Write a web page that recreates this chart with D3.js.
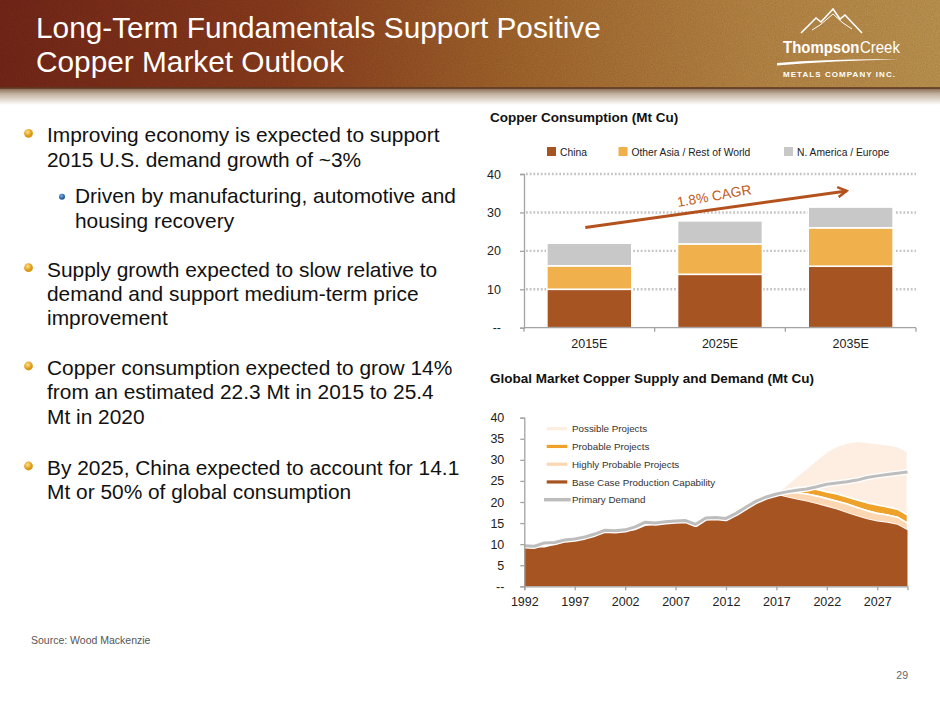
<!DOCTYPE html>
<html lang="en">
<head>
<meta charset="utf-8">
<script src="https://cdn.jsdelivr.net/npm/d3@7/dist/d3.min.js"></script>
<style>
  body { margin: 0; background: #fff; }
  svg { display: block; font-family: "Liberation Sans", Arial, Helvetica, sans-serif; }
</style>
</head>
<body>
<div id="slide"></div>
<script>
// ---- data ----
const barCategories = ['2015E', '2025E', '2035E']
const chinaMt = [10.0, 13.9, 16.0]
const otherAsiaMt = [6.1, 7.9, 10.0]
const naEuropeMt = [5.9, 6.0, 5.4]
const barTickValues = [0, 10, 20, 30, 40]

const years = [1992, 1993, 1994, 1995, 1996, 1997, 1998, 1999, 2000, 2001,
               2002, 2003, 2004, 2005, 2006, 2007, 2008, 2009, 2010, 2011,
               2012, 2013, 2014, 2015, 2016, 2017, 2018, 2019, 2020, 2021,
               2022, 2023, 2024, 2025, 2026, 2027, 2028, 2029, 2030]
const baseCase = [9.3, 9.2, 9.2, 9.8, 10.6, 10.9, 11.4, 12.2, 13.0, 12.9,
                  13.0, 13.3, 14.3, 14.6, 14.8, 15.1, 15.3, 14.6, 15.9, 16.0,
                  16.0, 17.3, 18.8, 20.2, 21.0, 21.7, 21.1, 20.6, 20.1, 19.5,
                  18.9, 18.2, 17.4, 16.6, 15.9, 15.4, 15.1, 14.6, 13.3]
const primaryDemand = [9.6, 9.5, 10.3, 10.4, 11.0, 11.2, 11.7, 12.4, 13.3, 13.2,
                       13.4, 14.1, 15.2, 15.0, 15.3, 15.5, 15.6, 14.7, 16.2, 16.3,
                       16.1, 17.3, 18.8, 20.2, 21.2, 21.9, 22.4, 22.8, 23.1, 23.6,
                       24.2, 24.5, 24.8, 25.2, 25.8, 26.2, 26.5, 26.8, 27.1]
// project layers, thickness above the base case (2017 onwards)
const projYears = [2017, 2018, 2019, 2020, 2021, 2022, 2023, 2024, 2025, 2026, 2027, 2028, 2029, 2030]
const highlyProbable = [0.1, 1.1, 1.6, 1.8, 1.9, 1.9, 2.0, 2.1, 2.1, 2.0, 1.9, 1.8, 1.8, 1.7]
const probable = [0.2, 0.7, 1.2, 1.5, 1.6, 1.6, 1.7, 1.7, 1.8, 1.9, 2.0, 1.9, 1.9, 1.9]
const possible = [0.1, 1.1, 2.6, 4.6, 7.0, 9.5, 11.3, 12.8, 13.9, 14.4, 14.6, 14.8, 14.9, 15.0]
const yearTickValues = [1992, 1997, 2002, 2007, 2012, 2017, 2022, 2027]
const areaTickValues = [0, 5, 10, 15, 20, 25, 30, 35, 40]

const bullets = [
  { level: 0, lines: ['Improving economy is expected to support', '2015 U.S. demand growth of ~3%'], y: 142.3 },
  { level: 1, lines: ['Driven by manufacturing, automotive and', 'housing recovery'], y: 203.3 },
  { level: 0, lines: ['Supply growth expected to slow relative to', 'demand and support medium-term price', 'improvement'], y: 276.7 },
  { level: 0, lines: ['Copper consumption expected to grow 14%', 'from an estimated 22.3 Mt in 2015 to 25.4', 'Mt in 2020'], y: 375 },
  { level: 0, lines: ['By 2025, China expected to account for 14.1', 'Mt or 50% of global consumption'], y: 475 }
]

const W = 940, H = 705
const svg = d3.select('#slide').append('svg').attr('width', W).attr('height', H)
const defs = svg.append('defs')

// ---- header band ----
let hg = defs.append('linearGradient').attr('id', 'hdr')
hg.append('stop').attr('offset', '0').attr('stop-color', '#782819')
hg.append('stop').attr('offset', '0.3').attr('stop-color', '#8e3e1e')
hg.append('stop').attr('offset', '0.55').attr('stop-color', '#a8692e')
hg.append('stop').attr('offset', '0.8').attr('stop-color', '#bd8a47')
hg.append('stop').attr('offset', '1').attr('stop-color', '#c49953')

let sg = defs.append('linearGradient').attr('id', 'shadow').attr('x1', 0).attr('x2', 0).attr('y1', 0).attr('y2', 1)
sg.append('stop').attr('offset', '0').attr('stop-color', '#85684f')
sg.append('stop').attr('offset', '0.35').attr('stop-color', '#c2b09e')
sg.append('stop').attr('offset', '1').attr('stop-color', '#ffffff')

let nf = defs.append('filter').attr('id', 'noise').attr('x', 0).attr('y', 0).attr('width', 1).attr('height', 1)
nf.append('feTurbulence').attr('type', 'fractalNoise').attr('baseFrequency', 0.9).attr('numOctaves', 2).attr('seed', 4)
nf.append('feColorMatrix').attr('type', 'matrix')
  .attr('values', '0 0 0 0 0  0 0 0 0 0  0 0 0 0 0  0 0 0 0.5 0')

let bg = defs.append('radialGradient').attr('id', 'gold').attr('cx', '40%').attr('cy', '35%')
bg.append('stop').attr('offset', '0').attr('stop-color', '#ffe08a')
bg.append('stop').attr('offset', '1').attr('stop-color', '#d9960f')
let bb = defs.append('radialGradient').attr('id', 'blue').attr('cx', '40%').attr('cy', '35%')
bb.append('stop').attr('offset', '0').attr('stop-color', '#7fb2e8')
bb.append('stop').attr('offset', '1').attr('stop-color', '#1f5aa0')

svg.append('rect').attr('width', W).attr('height', 88).attr('fill', 'url(#hdr)')
svg.append('rect').attr('width', W).attr('height', 88).attr('filter', 'url(#noise)').attr('opacity', 0.35)
svg.append('rect').attr('y', 88).attr('width', W).attr('height', 17).attr('fill', 'url(#shadow)')
svg.append('rect').attr('y', 87).attr('width', W).attr('height', 2).attr('fill', '#5e3a20').attr('opacity', 0.8)

svg.append('text').attr('x', 36).attr('y', 37.5).attr('fill', '#fff').attr('font-size', 29.8)
  .text('Long-Term Fundamentals Support Positive')
svg.append('text').attr('x', 36).attr('y', 72).attr('fill', '#fff').attr('font-size', 29.8)
  .text('Copper Market Outlook')

// logo
let logo = svg.append('g')
logo.append('polyline')
  .attr('points', '801,33 816,18 821,22 833,9 840,19 845,15 862,33')
  .attr('fill', 'none').attr('stroke', '#fff').attr('stroke-width', 1.6).attr('stroke-linejoin', 'miter')
logo.append('polyline')
  .attr('points', '812,30 820,25 833,14 843,23 852,29')
  .attr('fill', 'none').attr('stroke', '#fff').attr('stroke-width', 1)
// condensed word mark: squeeze the group instead of the glyphs
let brand = logo.append('g').attr('transform', 'translate(783,53) scale(0.88,1)')
brand.append('text').attr('x', 0).attr('y', 0).attr('fill', '#fff').attr('font-size', 17)
  .attr('font-weight', 'bold').text('Thompson')
brand.append('text').attr('x', 87.5).attr('y', 0).attr('fill', '#fff').attr('font-size', 17)
  .text('Creek')
logo.append('path').attr('d', 'M777,63 Q835,58.5 899,59.5 Q835,60.5 777,65.5 Z').attr('fill', '#fff')
logo.append('text').attr('x', 783).attr('y', 76.5).attr('fill', '#fff').attr('font-size', 8).attr('font-weight', 'bold')
  .attr('textLength', 112).attr('lengthAdjust', 'spacing').text('METALS COMPANY INC.')

// ---- left bullet text ----
bullets.forEach(function(b) {
  const x = b.level === 0 ? 47 : 75
  const lh = 24.3
  svg.append('circle')
    .attr('cx', b.level === 0 ? 28.5 : 62)
    .attr('cy', b.level === 0 ? b.y - 9 : b.y - 6.5)
    .attr('r', b.level === 0 ? 4.4 : 3)
    .attr('fill', b.level === 0 ? 'url(#gold)' : 'url(#blue)')
  let t = svg.append('text').attr('font-size', 20.9).attr('fill', '#111')
  t.selectAll('tspan')
    .data(b.lines)
    .enter()
    .append('tspan')
    .attr('x', x)
    .attr('y', function(d, i) { return b.y + i * lh })
    .text(function(d) { return d })
})

svg.append('text').attr('x', 31).attr('y', 644).attr('font-size', 10.5).attr('fill', '#555')
  .text('Source: Wood Mackenzie')
svg.append('text').attr('x', 908).attr('y', 679).attr('font-size', 10.5).attr('fill', '#666')
  .attr('text-anchor', 'end').text('29')

// ---- Copper Consumption bar chart ----
svg.append('text').attr('x', 490).attr('y', 122).attr('font-size', 13.5).attr('font-weight', 'bold')
  .attr('fill', '#111').text('Copper Consumption (Mt Cu)')

const barColors = ['#a65422', '#f0b04c', '#c8c8c8']
const barKeys = ['china', 'other', 'naeu']
const barLegend = ['China', 'Other Asia / Rest of World', 'N. America / Europe']
const barLegX = [547, 618.5, 784]
barLegend.forEach(function(name, i) {
  svg.append('rect').attr('x', barLegX[i]).attr('y', 147).attr('width', 9).attr('height', 9).attr('fill', barColors[i])
  svg.append('text').attr('x', barLegX[i] + 13).attr('y', 155.5).attr('font-size', 10.3).attr('fill', '#222').text(name)
})

let barY = d3.scaleLinear().domain([0, 40]).range([327.7, 174])
let barX = d3.scaleBand().domain(barCategories).range([524, 916]).paddingInner(0.35).paddingOuter(0.175)

// dotted gridlines
svg.append('g').selectAll('line')
  .data(barTickValues.slice(1))
  .enter()
  .append('line')
  .attr('x1', 526).attr('x2', 916)
  .attr('y1', function(d) { return barY(d) }).attr('y2', function(d) { return barY(d) })
  .attr('stroke', '#c4c4c4').attr('stroke-width', 2.4).attr('stroke-dasharray', '1.8,1.9')

let barRows = barCategories.map(function(c, i) {
  return { cat: c, china: chinaMt[i], other: otherAsiaMt[i], naeu: naEuropeMt[i] }
})
let barStack = d3.stack().keys(barKeys)(barRows)

svg.append('g').selectAll('g')
  .data(barStack)
  .enter()
  .append('g')
  .attr('fill', function(d, i) { return barColors[i] })
  .selectAll('rect')
  .data(function(d) { return d })
  .enter()
  .append('rect')
  .attr('x', function(d) { return barX(d.data.cat) })
  .attr('width', barX.bandwidth())
  .attr('y', function(d) { return barY(d[1]) })
  .attr('height', function(d) { return barY(d[0]) - barY(d[1]) })
  .attr('stroke', '#fff').attr('stroke-width', 1.6)

let barYAxis = d3.axisLeft(barY).tickValues(barTickValues)
  .tickFormat(function(d) { return d === 0 ? '--' : d })
  .tickSize(4).tickPadding(19)
let gy1 = svg.append('g').attr('transform', 'translate(524,0)').call(barYAxis)

let barXAxis = d3.axisBottom(barX).tickSize(0).tickPadding(11.7)
let gx1 = svg.append('g').attr('transform', 'translate(0,' + barY(0) + ')').call(barXAxis)
gx1.select('.domain').attr('d', 'M524,0H916')

// ticks between the categories
let gap = barX.step() - barX.bandwidth()
let bounds = barCategories.map(function(c) { return barX(c) - gap / 2 })
bounds.push(barX.range()[1])
gx1.selectAll('line.sep')
  .data(bounds)
  .enter()
  .append('line')
  .attr('class', 'sep')
  .attr('x1', function(d) { return d }).attr('x2', function(d) { return d })
  .attr('y1', 0).attr('y2', 4)

// CAGR arrow
defs.append('marker').attr('id', 'arrowhead')
  .attr('viewBox', '0 0 10 10').attr('refX', 8).attr('refY', 5)
  .attr('markerWidth', 4.2).attr('markerHeight', 4.2).attr('orient', 'auto')
  .append('path').attr('d', 'M1,1 L8,5 L1,9')
  .attr('fill', 'none').attr('stroke', '#b4521e').attr('stroke-width', 2)
let ax1 = barX('2015E') + barX.bandwidth() / 2 - 4
let ax2 = barX('2035E') + barX.bandwidth() / 2 - 4
svg.append('line')
  .attr('x1', ax1).attr('y1', barY(26.1))
  .attr('x2', ax2).attr('y2', barY(35.6))
  .attr('stroke', '#b4521e').attr('stroke-width', 3)
  .attr('marker-end', 'url(#arrowhead)')
svg.append('text')
  .attr('transform', 'translate(715,200.5) rotate(-10)')
  .attr('text-anchor', 'middle').attr('font-size', 13.8).attr('fill', '#c05a20')
  .text('1.8% CAGR')

// ---- Global supply and demand area chart ----
svg.append('text').attr('x', 490).attr('y', 382.5).attr('font-size', 13.5).attr('font-weight', 'bold')
  .attr('fill', '#111').text('Global Market Copper Supply and Demand (Mt Cu)')

let ax = d3.scaleLinear().domain([1992, 2030]).range([524.3, 907.5])
let ay = d3.scaleLinear().domain([0, 40]).range([586.3, 417.7])

let rows = years.map(function(yr, i) {
  const j = projYears.indexOf(yr)
  return {
    year: yr,
    base: baseCase[i],
    hp: j < 0 ? 0 : highlyProbable[j],
    prob: j < 0 ? 0 : probable[j],
    poss: j < 0 ? 0 : possible[j]
  }
})
let layers = d3.stack().keys(['base', 'hp', 'prob', 'poss'])(rows)
const layerColors = { base: '#a65422', hp: '#fcd7b2', prob: '#eea22a', poss: '#fdeee1' }

let areaGen = d3.area()
  .x(function(d) { return ax(d.data.year) })
  .y0(function(d) { return ay(d[0]) })
  .y1(function(d) { return ay(d[1]) })
let projArea = d3.area()
  .defined(function(d) { return d.data.year >= projYears[0] })
  .x(function(d) { return ax(d.data.year) })
  .y0(function(d) { return ay(d[0]) })
  .y1(function(d) { return ay(d[1]) })

// project layers drawn top-down so the white edges sit between them
svg.append('g').selectAll('path')
  .data(layers.slice().reverse())
  .enter()
  .append('path')
  .attr('d', function(d) { return d.key === 'base' ? areaGen(d) : projArea(d) })
  .attr('fill', function(d) { return layerColors[d.key] })
  .attr('stroke', function(d) { return d.key === 'base' ? 'none' : '#fff' })
  .attr('stroke-width', 1.6)
  .attr('stroke-linejoin', 'round')

let demandLine = d3.line()
  .x(function(d, i) { return ax(years[i]) })
  .y(function(d) { return ay(d) })
svg.append('path').attr('d', demandLine(primaryDemand))
  .attr('fill', 'none').attr('stroke', '#fff').attr('stroke-width', 5.5).attr('stroke-linejoin', 'round')
svg.append('path').attr('d', demandLine(primaryDemand))
  .attr('fill', 'none').attr('stroke', '#bdbdbd').attr('stroke-width', 3).attr('stroke-linejoin', 'round')

let areaYAxis = d3.axisLeft(ay).tickValues(areaTickValues)
  .tickFormat(function(d) { return d === 0 ? '--' : d })
  .tickSize(4).tickPadding(16)
let gy2 = svg.append('g').attr('transform', 'translate(524.3,0)').call(areaYAxis)
let areaXAxis = d3.axisBottom(ax).tickValues(yearTickValues).tickFormat(d3.format('d'))
  .tickSize(4).tickPadding(6.5)
let gx2 = svg.append('g').attr('transform', 'translate(0,' + ay(0) + ')').call(areaXAxis)

// area legend
const legNames = ['Possible Projects', 'Probable Projects', 'Highly Probable Projects',
                  'Base Case Production Capability', 'Primary Demand']
const legColors = ['#fdeee1', '#eea22a', '#fcd7b2', '#a65422', '#bdbdbd']
legNames.forEach(function(name, i) {
  const yb = 432.3 + i * 17.75
  const last = i === legNames.length - 1
  svg.append('line')
    .attr('x1', last ? 544 : 546.7).attr('x2', last ? 570.7 : 567.3)
    .attr('y1', yb - 3.6).attr('y2', yb - 3.6)
    .attr('stroke', legColors[i]).attr('stroke-width', last ? 3.5 : 3.2)
  svg.append('text').attr('x', 572).attr('y', yb).attr('font-size', 9.8).attr('fill', '#333').text(name)
})

// shared axis styling
svg.selectAll('.domain, .tick line, line.sep')
  .attr('stroke', '#a3a3a3').attr('stroke-width', 1.3)
svg.selectAll('.tick text')
  .attr('font-size', 12.5).attr('fill', '#222')
  .attr('font-family', '"Liberation Sans", Arial, Helvetica, sans-serif')
</script>
</body>
</html>
